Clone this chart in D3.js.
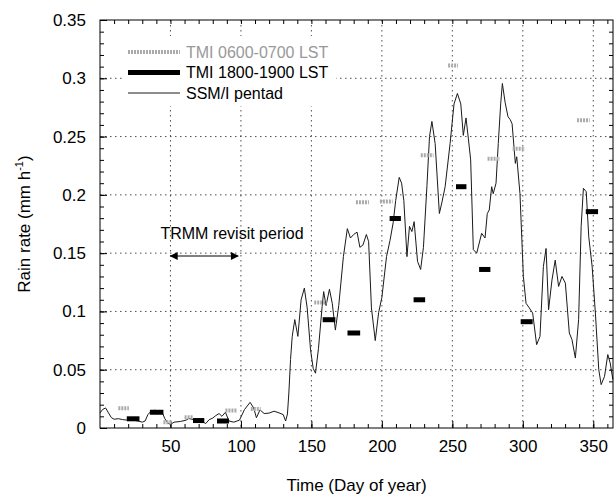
<!DOCTYPE html>
<html>
<head>
<meta charset="utf-8">
<script src="https://cdn.jsdelivr.net/npm/d3@7"></script>
<style>
  body { margin: 0; background: #fff; }
  svg text { font-family: "Liberation Sans", Arial, sans-serif; }
</style>
</head>
<body>
<div id="chart"></div>
<script>
// SSM/I pentad rain rate (day of year, mm/h)
const ssmiDay = [0, 2, 4, 6, 8, 10, 13, 16, 19, 23, 27, 30, 32, 34, 36, 38.5, 41, 44, 46, 48, 50,
  52.5, 57, 61, 63, 66, 69, 72, 75, 77.5, 80, 82, 84.5, 86.5, 89, 91.5, 95, 99, 102.5, 106.5, 109,
  111, 113.5, 116.5, 120, 123.5, 127, 130, 131.7, 133, 134, 135.2, 136.4, 138.2, 140.4, 142.7, 145,
  147, 149.4, 151.3, 152.9, 155, 157.6, 158.7, 160.4, 162.8, 164.8, 167, 169.4, 172.7, 175.5, 177.7,
  180, 182.4, 184.4, 186.6, 189, 190.6, 192.6, 195.3, 197.7, 200, 203.3, 205.8, 208, 209.8, 212.3,
  214, 215.6, 217.8, 219.6, 221.3, 222.9, 225.3, 227.5, 229.5, 232, 233.8, 235.5, 237.8, 240.8,
  242.5, 244.9, 248.4, 251.2, 253.6, 256, 257.8, 259.7, 261.4, 263, 264.9, 267.3, 270.8, 273.2,
  274.8, 276.2, 277.9, 279, 281, 282.6, 284.3, 285.5, 287.5, 289.5, 291, 292.4, 294.7, 295.7, 298,
  300.4, 302.3, 304.6, 307, 309.8, 312.2, 314.6, 316.5, 318.3, 320.7, 323, 325.4, 327.8, 330.2, 333,
  334.9, 337.3, 339.6, 341.4, 343, 345, 346.8, 349.2, 351.5, 353.9, 355.6, 358, 360.3, 362, 363.9];
const ssmiRate = [0.013, 0.016, 0.0172, 0.013, 0.009, 0.0075, 0.008, 0.0072, 0.0068, 0.0068, 0.006,
  0.005, 0.006, 0.0115, 0.0142, 0.0152, 0.0148, 0.0138, 0.008, 0.0045, 0.003, 0.005, 0.0056, 0.0067,
  0.0082, 0.0072, 0.0068, 0.006, 0.0038, 0.0072, 0.0085, 0.0105, 0.0124, 0.010, 0.0135, 0.006, 0.005,
  0.0068, 0.0158, 0.022, 0.0173, 0.0088, 0.0155, 0.0124, 0.0128, 0.0144, 0.013, 0.0115, 0.006, 0.012,
  0.03, 0.0587, 0.0786, 0.093, 0.0786, 0.110, 0.120, 0.103, 0.067, 0.051, 0.047, 0.068, 0.104, 0.117,
  0.105, 0.119, 0.107, 0.084, 0.105, 0.147, 0.171, 0.163, 0.166, 0.168, 0.155, 0.157, 0.166, 0.160,
  0.103, 0.075, 0.099, 0.112, 0.147, 0.161, 0.176, 0.195, 0.215, 0.210, 0.195, 0.147, 0.173, 0.1685,
  0.177, 0.143, 0.136, 0.155, 0.208, 0.25, 0.263, 0.244, 0.184, 0.193, 0.207, 0.244, 0.278, 0.287,
  0.278, 0.251, 0.266, 0.248, 0.23, 0.153, 0.150, 0.167, 0.163, 0.184, 0.187, 0.207, 0.201, 0.21,
  0.244, 0.278, 0.2955, 0.279, 0.267, 0.2647, 0.261, 0.227, 0.2327, 0.201, 0.130, 0.107, 0.103,
  0.0986, 0.0715, 0.0786, 0.1385, 0.154, 0.1015, 0.127, 0.144, 0.1214, 0.130, 0.1243, 0.0815, 0.0758,
  0.060, 0.093, 0.173, 0.2056, 0.2027, 0.164, 0.1385, 0.0986, 0.050, 0.0372, 0.0443, 0.063, 0.0558,
  0.0415];

// TMI 0600-0700 LST means (start day, end day, rate)
const amStart = [13, 45, 60, 89, 107, 152, 181.6, 198.6, 227.6, 247, 275, 292.8, 338.5];
const amEnd = [20.5, 51, 66, 97, 114, 161, 190.8, 207.6, 236.6, 254, 283.8, 301.5, 347.5];
const amRate = [0.017, 0.005, 0.0093, 0.015, 0.0164, 0.1077, 0.1937, 0.1942, 0.234, 0.311, 0.231, 0.2396, 0.264];

// TMI 1800-1900 LST means
const pmStart = [19, 35.4, 66, 83, 158, 175.6, 205.5, 222.5, 252.6, 269, 298.5, 344.7];
const pmEnd = [28, 45, 74, 91.5, 167, 184.6, 213.5, 230.7, 260, 277, 307, 353.4];
const pmRate = [0.0079, 0.0135, 0.0064, 0.006, 0.0929, 0.0815, 0.1797, 0.110, 0.207, 0.136, 0.0912, 0.1856];

const xTicks = [50, 100, 150, 200, 250, 300, 350];
const yTicks = [0, 0.05, 0.1, 0.15, 0.2, 0.25, 0.3, 0.35];
const revisit = [50, 98]; // TRMM revisit period arrow, days

const W = 614, H = 498;
const margin = { top: 20, right: 1, bottom: 70, left: 100 };
const width = W - margin.left - margin.right;
const height = H - margin.top - margin.bottom;

const x = d3.scaleLinear().domain([0, 364]).range([0, width]);
const y = d3.scaleLinear().domain([0, 0.35]).range([height, 0]);

const svg = d3.select('#chart').append('svg')
    .attr('width', W)
    .attr('height', H);

const g = svg.append('g')
    .attr('transform', `translate(${margin.left},${margin.top})`);

// grid
g.append('g').selectAll('line')
    .data(xTicks)
    .enter().append('line')
    .attr('x1', d => x(d)).attr('x2', d => x(d))
    .attr('y1', 0).attr('y2', height)
    .attr('stroke', '#222')
    .attr('stroke-width', 0.8)
    .attr('stroke-dasharray', '1.5,3.5');

g.append('g').selectAll('line')
    .data(yTicks.slice(1, -1))
    .enter().append('line')
    .attr('x1', 0).attr('x2', width)
    .attr('y1', d => y(d)).attr('y2', d => y(d))
    .attr('stroke', '#222')
    .attr('stroke-width', 0.8)
    .attr('stroke-dasharray', '1.5,3.5');

// ticks on all four sides, pointing in
const minorX = d3.range(10, 364, 10);
const minorY = d3.range(0.01, 0.35, 0.01);

function styleAxis(sel) {
    sel.select('.domain').remove();
    sel.selectAll('.tick line').attr('stroke', '#000');
}

g.append('g')
    .attr('transform', `translate(0,${height})`)
    .call(d3.axisBottom(x).tickValues(minorX).tickSize(-4).tickFormat(''))
    .call(styleAxis);
g.append('g')
    .attr('transform', `translate(0,${height})`)
    .call(d3.axisBottom(x).tickValues(xTicks).tickSize(-7).tickPadding(12).tickFormat(d3.format('d')))
    .call(styleAxis)
    .selectAll('text').attr('font-size', 17).attr('fill', '#000');
g.append('g')
    .call(d3.axisTop(x).tickValues(minorX).tickSize(-4).tickFormat(''))
    .call(styleAxis);
g.append('g')
    .call(d3.axisLeft(y).tickValues(minorY).tickSize(-4).tickFormat(''))
    .call(styleAxis);
g.append('g')
    .call(d3.axisLeft(y).tickValues(yTicks).tickSize(-7).tickPadding(14).tickFormat(d => d === 0 ? '0' : String(+d.toFixed(2))))
    .call(styleAxis)
    .selectAll('text').attr('font-size', 17).attr('fill', '#000');
g.append('g')
    .attr('transform', `translate(${width},0)`)
    .call(d3.axisRight(y).tickValues(minorY).tickSize(-4).tickFormat(''))
    .call(styleAxis);

// SSM/I line
const ssmi = ssmiDay.map((d, i) => ({ day: d, rate: ssmiRate[i] }));
g.append('path')
    .datum(ssmi)
    .attr('fill', 'none')
    .attr('stroke', '#1a1a1a')
    .attr('stroke-width', 1)
    .attr('d', d3.line().x(d => x(d.day)).y(d => y(d.rate)));

// TMI marks
const am = amStart.map((s, i) => ({ s: s, e: amEnd[i], v: amRate[i] }));
const pm = pmStart.map((s, i) => ({ s: s, e: pmEnd[i], v: pmRate[i] }));

g.append('g').selectAll('line')
    .data(am)
    .enter().append('line')
    .attr('x1', d => x(d.s)).attr('x2', d => x(d.e))
    .attr('y1', d => y(d.v)).attr('y2', d => y(d.v))
    .attr('stroke', '#aaa')
    .attr('stroke-width', 4)
    .attr('stroke-dasharray', '2,1');

g.append('g').selectAll('line')
    .data(pm)
    .enter().append('line')
    .attr('x1', d => x(d.s)).attr('x2', d => x(d.e))
    .attr('y1', d => y(d.v)).attr('y2', d => y(d.v))
    .attr('stroke', '#000')
    .attr('stroke-width', 5);

// frame
g.append('rect')
    .attr('width', width).attr('height', height)
    .attr('fill', 'none')
    .attr('stroke', '#000')
    .attr('stroke-width', 1);

// legend
const legend = g.append('g').attr('transform', 'translate(22,16)');
legend.append('rect')
    .attr('width', 214).attr('height', 70)
    .attr('fill', '#fff');
const legendItems = [
    { label: 'TMI 0600-0700 LST', stroke: '#aaa', w: 4, dash: '2,1', text: '#999' },
    { label: 'TMI 1800-1900 LST', stroke: '#000', w: 5, dash: null, text: '#000' },
    { label: 'SSM/I pentad', stroke: '#1a1a1a', w: 1, dash: null, text: '#000' }
];
const li = legend.selectAll('.li')
    .data(legendItems)
    .enter().append('g')
    .attr('transform', (d, i) => `translate(0,${16 + i * 20.5})`);
li.append('line')
    .attr('x1', 6).attr('x2', 58)
    .attr('stroke', d => d.stroke)
    .attr('stroke-width', d => d.w)
    .attr('stroke-dasharray', d => d.dash);
li.append('text')
    .attr('x', 64)
    .attr('dy', '0.36em')
    .attr('font-size', 16)
    .attr('fill', d => d.text)
    .text(d => d.label);

// TRMM revisit period annotation
g.append('text')
    .attr('x', x(revisit[0]) - 10)
    .attr('y', 219)
    .attr('font-size', 16)
    .text('TRMM revisit period');

const defs = svg.append('defs');
defs.append('marker')
    .attr('id', 'head')
    .attr('viewBox', '0 0 10 10')
    .attr('refX', 9).attr('refY', 5)
    .attr('markerWidth', 14).attr('markerHeight', 8)
    .attr('markerUnits', 'userSpaceOnUse')
    .attr('orient', 'auto-start-reverse')
    .append('path')
    .attr('d', 'M0,0L10,5L0,10Z')
    .attr('fill', '#000');

g.append('line')
    .attr('x1', x(revisit[0])).attr('x2', x(revisit[1]))
    .attr('y1', 236).attr('y2', 236)
    .attr('stroke', '#000')
    .attr('stroke-width', 1)
    .attr('marker-start', 'url(#head)')
    .attr('marker-end', 'url(#head)');

// axis titles
svg.append('text')
    .attr('x', margin.left + width / 2)
    .attr('y', 491)
    .attr('text-anchor', 'middle')
    .attr('font-size', 17)
    .text('Time (Day of year)');

const yt = svg.append('text')
    .attr('transform', `translate(30,${margin.top + height / 2}) rotate(-90)`)
    .attr('text-anchor', 'middle')
    .attr('font-size', 17);
yt.append('tspan').text('Rain rate (mm h');
yt.append('tspan').attr('font-size', 11).attr('dy', -7).text('-1');
yt.append('tspan').attr('dy', 7).text(')');
</script>
</body>
</html>
